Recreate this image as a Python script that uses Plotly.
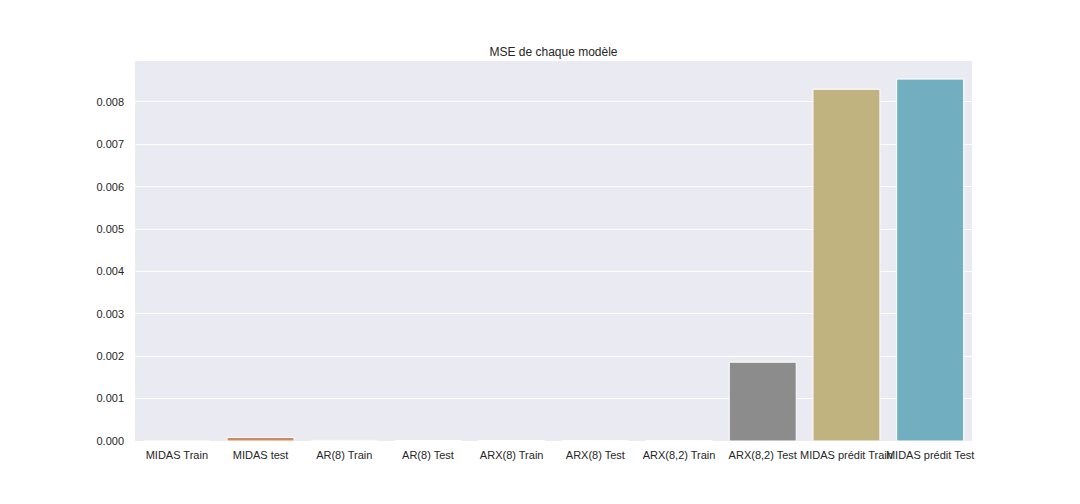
import plotly.graph_objects as go

categories = ["MIDAS Train", "MIDAS test", "AR(8) Train", "AR(8) Test", "ARX(8) Train",
              "ARX(8) Test", "ARX(8,2) Train", "ARX(8,2) Test", "MIDAS prédit Train", "MIDAS prédit Test"]
mse_values = [0.000003, 0.000085, 0.000015, 0.000012, 0.000012,
              0.000010, 0.000008, 0.001860, 0.008300, 0.008540]
bar_colors = ["#5875A3", "#CC8963", "#5F9E6E", "#B55D60", "#857AAB",
              "#8D7866", "#D095BF", "#8C8C8C", "#C1B37F", "#71AEC0"]
y_ticks = [0.000, 0.001, 0.002, 0.003, 0.004, 0.005, 0.006, 0.007, 0.008]

fig = go.Figure(go.Bar(
    x=categories, y=mse_values,
    marker=dict(color=bar_colors, line=dict(color="white", width=1)),
    width=0.8,
))

fig.update_layout(
    width=1080, height=504,
    margin=dict(l=135, r=108, t=61, b=63),
    paper_bgcolor="white", plot_bgcolor="#EAEAF2",
    font=dict(family="Liberation Sans, Arial, sans-serif", size=11, color="#262626"),
    title=dict(text="MSE de chaque modèle", x=0.5, xanchor="center", xref="paper",
               y=1, yref="paper", yanchor="bottom", pad=dict(b=5),
               font=dict(size=12, color="#262626")),
    showlegend=False,
    bargap=0.2,
)
fig.update_xaxes(showgrid=False, zeroline=False, showline=False, ticks="",
                 tickfont=dict(size=11), tickangle=0, range=[-0.5, 9.5],
                 ticklabelstandoff=6)
fig.update_yaxes(range=[0, max(mse_values) * 1.05], tickvals=y_ticks, tickformat=".3f",
                 showgrid=True, gridcolor="white", gridwidth=1, zeroline=False,
                 showline=False, ticks="", tickfont=dict(size=11),
                 ticklabelstandoff=10)

fig.write_html("out.html")
